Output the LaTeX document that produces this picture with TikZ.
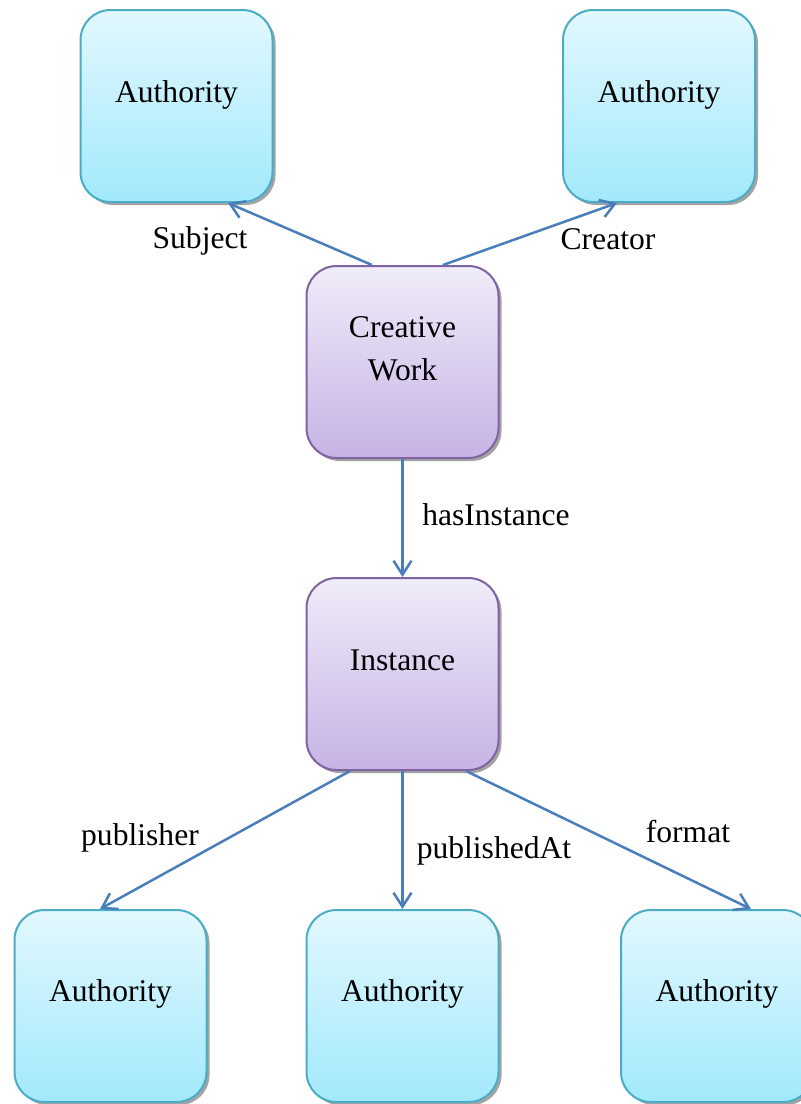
\documentclass[tikz,border=0pt]{standalone}
\usepackage{fontspec}
\setmainfont{Liberation Serif}
\usetikzlibrary{arrows.meta,calc,shadows}
\definecolor{authTop}{HTML}{E2F8FE}
\definecolor{authBot}{HTML}{A2E9FC}
\definecolor{authLine}{HTML}{4BACC6}
\definecolor{workTop}{HTML}{F0ECF9}
\definecolor{workBot}{HTML}{C7B3E5}
\definecolor{workLine}{HTML}{8064A2}
\definecolor{arrowCol}{HTML}{4A7EBB}
\tikzset{
  box/.style={rounded corners=15pt, minimum width=96pt, minimum height=96pt,
    inner sep=0pt, line width=1pt,
    drop shadow={shadow xshift=1.5pt, shadow yshift=-1.5pt, fill=black!45, opacity=0.8}},
  authbox/.style={box, draw=authLine, top color=authTop, bottom color=authBot},
  workbox/.style={box, draw=workLine, top color=workTop, bottom color=workBot},
  txt/.style={anchor=base, inner sep=0pt, font=\fontsize{15.8}{19}\selectfont},
  conn/.style={draw=arrowCol, line width=1.25pt, -{Straight Barb[length=7pt,width=9pt,line width=1.25pt]}},
}
\begin{document}
\begin{tikzpicture}[x=0.5pt,y=-0.5pt]
\useasboundingbox (0,0) rectangle (801,1104);
\clip (0,0) rectangle (801,1104);
% boxes
\node[authbox] (atl) at (176.5,106) {};
\node[authbox] (atr) at (659,106) {};
\node[workbox] (cw) at (402.5,362) {};
\node[workbox] (inst) at (402.5,674) {};
\node[authbox] (abl) at (110.5,1006) {};
\node[authbox] (abm) at (402.5,1006) {};
\node[authbox] (abr) at (717,1006) {};
% box texts
\node[txt] (atlt) at (176.5,102) {Authority};
\node[txt] (atrt) at (659,102) {Authority};
\node[txt] (cwt1) at (402.5,337) {Creative};
\node[txt] (cwt2) at (402.5,380) {Work};
\node[txt] (instt) at (402.5,670) {Instance};
\node[txt] (ablt) at (110.5,1001) {Authority};
\node[txt] (abmt) at (402.5,1001) {Authority};
\node[txt] (abrt) at (717,1001) {Authority};
% connectors
\draw[conn] ($(cw.north)+(-30.5,0)$) -- ($(atl.south)+(51.5,0)$);
\draw[conn] ($(cw.north)+(40.5,0)$) -- ($(atr.south)+(-42,0)$);
\draw[conn] (cw.south) -- (inst.north);
\draw[conn] ($(inst.south)+(-52.5,0)$) -- ($(abl.north)+(-10.5,0)$);
\draw[conn] (inst.south) -- (abm.north);
\draw[conn] ($(inst.south)+(63.5,0)$) -- ($(abr.north)+(34,0)$);
% labels
\node[txt] (lsub) at (200,248) {Subject};
\node[txt] (lcre) at (608,249) {Creator};
\node[txt] (lhas) at (496,525) {hasInstance};
\node[txt] (lpub) at (140,845) {publisher};
\node[txt] (lpat) at (494,858) {publishedAt};
\node[txt] (lfor) at (688,842) {format};
\end{tikzpicture}
\end{document}
